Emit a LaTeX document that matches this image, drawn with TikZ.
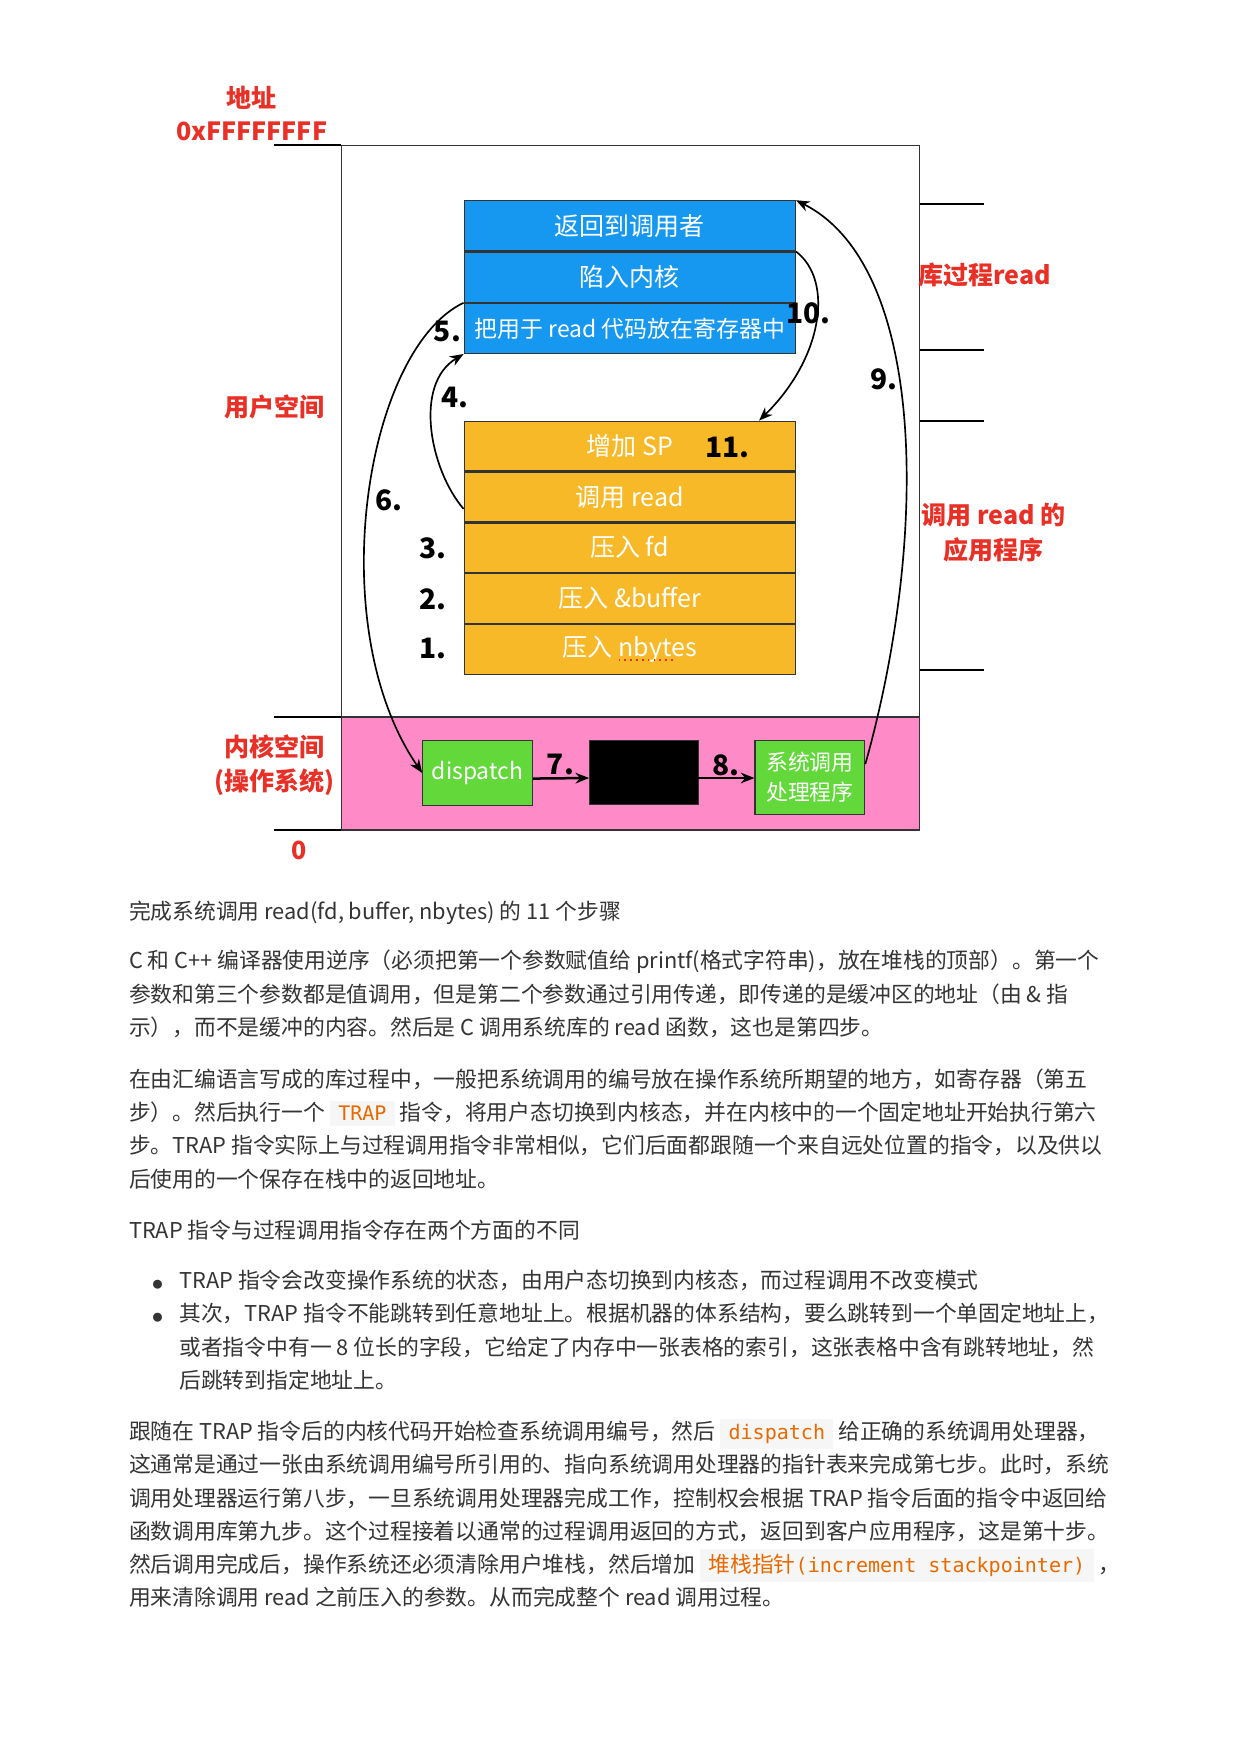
\documentclass[tikz,border=0pt]{standalone}
\usepackage{fontspec}
\setmainfont{Noto Sans CJK SC}
\setmonofont[Scale=0.92]{DejaVu Sans Mono}
\usetikzlibrary{arrows.meta,calc,positioning}
\definecolor{cellblue}{RGB}{22,152,240}
\definecolor{cellorange}{RGB}{248,185,40}
\definecolor{kernelpink}{RGB}{255,138,200}
\definecolor{handlergreen}{RGB}{98,216,58}
\definecolor{labelred}{RGB}{232,48,38}
\definecolor{bodygrey}{RGB}{52,52,52}
\definecolor{codeorange}{RGB}{233,105,0}
\definecolor{codebg}{RGB}{246,246,246}
\newcommand{\codespan}[1]{{\setlength{\fboxsep}{2.5pt}\smash{\colorbox{codebg}{\hspace{1.5pt}\ttfamily\textcolor{codeorange}{#1}\hspace{1.5pt}}}}}
\newcommand{\listdot}{\makebox[12.9pt][l]{\fontsize{4.8}{6}\selectfont ●}}

\begin{document}
\begin{tikzpicture}[x=0.5367pt,y=-0.5367pt,
  every node/.style={align=center},
  cell/.style={draw=black!80,line width=0.6pt,minimum width=158.9pt,
               minimum height=24pt,inner sep=0pt,text=white,
               font=\fontsize{12}{14}\selectfont},
  bluecell/.style={cell,fill=cellblue},
  orangecell/.style={cell,fill=cellorange,minimum height=23.8pt},
  kbox/.style={draw=black!80,line width=0.6pt,inner sep=0pt,text=white,
               fill=handlergreen},
  spacelabel/.style={font=\fontsize{12}{16.6}\selectfont\bfseries,text=labelred},
  steplabel/.style={font=\fontsize{13.5}{15}\selectfont\bfseries,inner sep=0pt},
  tick/.style={line width=1pt},
  flow/.style={-{Stealth[length=2.3mm,width=1.8mm]},line width=0.8pt},
  kflow/.style={-{Stealth[length=2.3mm,width=1.8mm]},line width=1.2pt},
  bodytext/.style={anchor=north west,align=left,inner sep=0pt,text=bodygrey,
               font=\fontsize{10.45}{15.94}\selectfont}
]
\useasboundingbox (0,0) rectangle (1109,1568);
\fill[white] (0,0) rectangle (1109,1568);

% --- Address space frame ---
\draw[line width=0.6pt,black!80] (305,130) rectangle (822,742);
\draw[line width=0.6pt,black!80,fill=kernelpink] (305,641) rectangle (822,742);
\foreach \y in {130,641,742}
  \draw[tick] (245,\y) -- (305,\y);
\foreach \y in {182,313,376,599}
  \draw[tick] (822,\y) -- (880,\y);

% --- Side labels ---
\node[spacelabel] (addr) at (225,87) {地址};
\node[spacelabel] (topaddr) at (225,117) {0xFFFFFFFF};
\node[spacelabel] (user) at (245,364) {用户空间};
\node[spacelabel] (kernel) at (245,684) {内核空间\\(操作系统)};
\node[spacelabel] (zeroaddr) at (267,760) {0};
\node[spacelabel] (libread) at (880,246) {库过程read};
\node[spacelabel] (app) at (888,476) {调用 read 的\\应用程序};

% --- Library procedure (blue) ---
\node[bluecell,anchor=north] (ret) at (563,179) {返回到调用者};
\node[bluecell,below=0pt of ret] (trap) {陷入内核};
\node[bluecell,below=0pt of trap,font=\fontsize{11}{13}\selectfont] (putcode)
  {把用于 read 代码放在寄存器中};

% --- User program (orange) ---
\node[orangecell,anchor=north] (incsp) at (563,376) {增加 SP};
\node[orangecell,below=0pt of incsp] (callread) {调用 read};
\node[orangecell,below=0pt of callread] (pushfd) {压入 fd};
\node[orangecell,below=0pt of pushfd] (pushbuf) {压入 \&buffer};
\node[orangecell,below=0pt of pushbuf] (pushnb) {压入 nbytes};
\draw[labelred,dotted,line width=0.8pt] (553,590) -- (604,590);

% --- Kernel ---
\node[kbox,minimum width=52.6pt,minimum height=31.1pt,
      font=\fontsize{11}{13}\selectfont] (dispatch) at (427,691) {dispatch};
\node[draw=black!80,fill=black,minimum width=52pt,minimum height=30.6pt]
  (jumptable) at (575.5,690.5) {};
\node[kbox,minimum width=52.6pt,minimum height=35.4pt,
      font=\fontsize{10.5}{14.5}\selectfont] (handler) at (724,695) {系统调用\\处理程序};

% --- Step numbers ---
\node[steplabel] (n1) at (387,580) {1.};
\node[steplabel] (n2) at (387,536) {2.};
\node[steplabel] (n3) at (387,490) {3.};
\node[steplabel] (n4) at (407,355) {4.};
\node[steplabel] (n5) at (400,296) {5.};
\node[steplabel] (n6) at (348,447) {6.};
\node[steplabel] (n7) at (501,683) {7.};
\node[steplabel] (n8) at (649,684) {8.};
\node[steplabel] (n9) at (790,339) {9.};
\node[steplabel] (n10) at (723,280) {10.};
\node[steplabel] (n11) at (650,400) {11.};

% --- Control flow ---
\draw[flow] ($(callread.south west)+(0,-12)$) .. controls +(-30,-35) and +(-45,27) .. (putcode.south west);
\draw[flow] (trap.south west) .. controls +(-88,42) and +(-90,-131) .. (dispatch.west);
\draw[kflow] ($(dispatch.east)+(0,5)$) -- ($(jumptable.west)+(0,5)$);
\draw[kflow] ($(jumptable.east)+(0,5)$) -- ($(jumptable.east -| handler.west)+(0,5)$);
\draw[flow] ([yshift=6.4pt]handler.east) .. controls +(57,-203) and +(117,59) .. (ret.north east);
\draw[flow] (ret.south east) .. controls +(34,26) and +(57,-56) .. ($(incsp.north east)+(-33,0)$);

% --- Text below ---
\node[bodytext] (caption) at (115,805)
  {完成系统调用 read(fd, buffer, nbytes) 的 11 个步骤};
\node[bodytext] (para1) at (115,849)
  {C 和 C++ 编译器使用逆序（必须把第一个参数赋值给 printf(格式字符串)，放在堆栈的顶部）。第一个\\
   参数和第三个参数都是值调用，但是第二个参数通过引用传递，即传递的是缓冲区的地址（由 \& 指\\
   示），而不是缓冲的内容。然后是 C 调用系统库的 read 函数，这也是第四步。};
\node[bodytext] (para2) at (115,955)
  {在由汇编语言写成的库过程中，一般把系统调用的编号放在操作系统所期望的地方，如寄存器（第五\\
   步）。然后执行一个 \codespan{TRAP} 指令，将用户态切换到内核态，并在内核中的一个固定地址开始执行第六\\
   步。TRAP 指令实际上与过程调用指令非常相似，它们后面都跟随一个来自远处位置的指令，以及供以\\
   后使用的一个保存在栈中的返回地址。};
\node[bodytext] (trapdiff) at (115,1090)
  {TRAP 指令与过程调用指令存在两个方面的不同};
\node[bodytext] (bullets) at (136,1135)
  {\listdot TRAP 指令会改变操作系统的状态，由用户态切换到内核态，而过程调用不改变模式\\
   \listdot 其次，TRAP 指令不能跳转到任意地址上。根据机器的体系结构，要么跳转到一个单固定地址上，\\
   \hspace*{12.9pt}或者指令中有一 8 位长的字段，它给定了内存中一张表格的索引，这张表格中含有跳转地址，然\\
   \hspace*{12.9pt}后跳转到指定地址上。};
\node[bodytext] (para3) at (115,1270)
  {跟随在 TRAP 指令后的内核代码开始检查系统调用编号，然后 \codespan{dispatch} 给正确的系统调用处理器，\\
   这通常是通过一张由系统调用编号所引用的、指向系统调用处理器的指针表来完成第七步。此时，系统\\
   调用处理器运行第八步，一旦系统调用处理器完成工作，控制权会根据 TRAP 指令后面的指令中返回给\\
   函数调用库第九步。这个过程接着以通常的过程调用返回的方式，返回到客户应用程序，这是第十步。\\
   然后调用完成后，操作系统还必须清除用户堆栈，然后增加 \codespan{{\rmfamily 堆栈指针}(increment stackpointer)} ，\\
   用来清除调用 read 之前压入的参数。从而完成整个 read 调用过程。};
\end{tikzpicture}
\end{document}
